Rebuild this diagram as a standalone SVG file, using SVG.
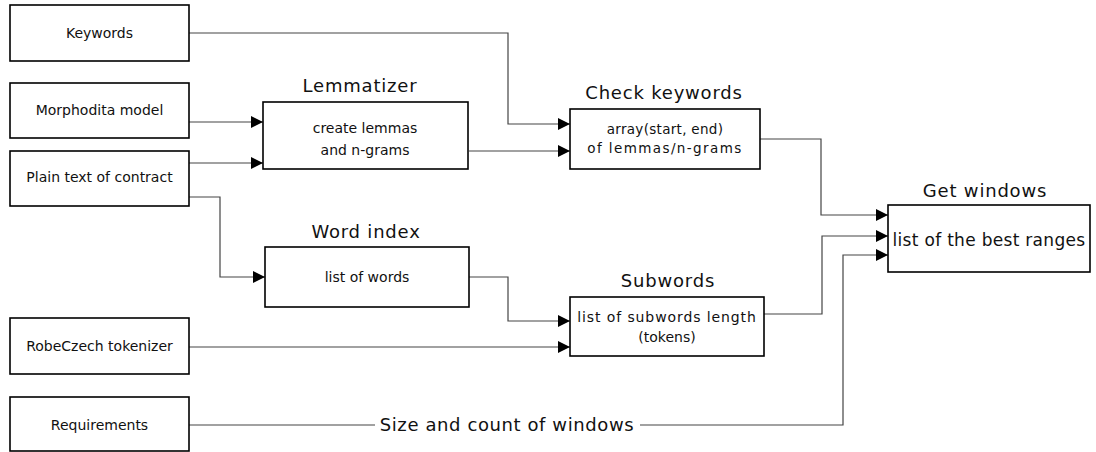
<svg xmlns="http://www.w3.org/2000/svg" width="1096" height="452" viewBox="0 0 1096 452">
<style>
.box{fill:#fff;stroke:#000;stroke-width:1.6}
.t{font-family:"DejaVu Sans",sans-serif;font-size:14px;fill:#111;text-anchor:middle}
.s{font-family:"DejaVu Sans",sans-serif;font-size:13.5px;fill:#111;text-anchor:middle}
.h{font-family:"DejaVu Sans",sans-serif;font-size:18px;fill:#111;text-anchor:middle;letter-spacing:0.8px}
.c{fill:none;stroke:#444;stroke-width:1.2}
</style>
<defs>
<marker id="a" viewBox="0 0 12 12" markerWidth="12" markerHeight="12" refX="12" refY="6" orient="auto" markerUnits="userSpaceOnUse">
<path d="M0,0 L12,6 L0,12 Z" fill="#000"/>
</marker>
</defs>
<rect width="1096" height="452" fill="#fff"/>
<g id="connectors">
<path class="c" d="M189,33 H508 V124 H570" marker-end="url(#a)"/>
<path class="c" d="M189,122 H263" marker-end="url(#a)"/>
<path class="c" d="M189,163 H263" marker-end="url(#a)"/>
<path class="c" d="M189,197 H220 V277 H265" marker-end="url(#a)"/>
<path class="c" d="M469,151 H570" marker-end="url(#a)"/>
<path class="c" d="M469,277 H508 V321 H570" marker-end="url(#a)"/>
<path class="c" d="M189,347 H570" marker-end="url(#a)"/>
<path class="c" d="M760,139 H821 V215 H888" marker-end="url(#a)"/>
<path class="c" d="M764,314 H822 V236 H888" marker-end="url(#a)"/>
<path class="c" d="M189,425 H375"/>
<path class="c" d="M640,425 H843 V255 H888" marker-end="url(#a)"/>
<text class="h" x="507" y="431" style="letter-spacing:0.6px">Size and count of windows</text>
</g>
<g id="keywords"><rect class="box" x="10" y="5" width="179" height="56"/><text class="t" x="99.5" y="38">Keywords</text></g>
<g id="morphodita"><rect class="box" x="10" y="83" width="179" height="55"/><text class="t" x="99.5" y="115">Morphodita model</text></g>
<g id="plaintext"><rect class="box" x="10" y="151" width="179" height="55"/><text class="t" x="99.5" y="182">Plain text of contract</text></g>
<g id="robeczech"><rect class="box" x="10" y="318" width="179" height="56"/><text class="t" x="99.5" y="351">RobeCzech tokenizer</text></g>
<g id="requirements"><rect class="box" x="10" y="397" width="179" height="54"/><text class="t" x="99.5" y="430">Requirements</text></g>
<g id="lemmatizer"><text class="h" x="360" y="92">Lemmatizer</text><rect class="box" x="263" y="102" width="205" height="67"/><text class="t" x="365" y="133">create lemmas</text><text class="t" x="365" y="155">and n-grams</text></g>
<g id="wordindex"><text class="h" x="366" y="238">Word index</text><rect class="box" x="265" y="247" width="204" height="60"/><text class="t" x="367" y="282">list of words</text></g>
<g id="checkkeywords"><text class="h" x="664" y="99">Check keywords</text><rect class="box" x="570" y="109" width="190" height="60"/><text class="s" x="665" y="134" style="letter-spacing:0.3px">array(start, end)</text><text class="s" x="665" y="153" style="letter-spacing:1.4px">of lemmas/n-grams</text></g>
<g id="subwords"><text class="h" x="668" y="287">Subwords</text><rect class="box" x="570" y="297" width="194" height="59"/><text class="t" x="667" y="322" style="letter-spacing:0.9px">list of subwords length</text><text class="t" x="667" y="342">(tokens)</text></g>
<g id="getwindows"><text class="h" x="985" y="197">Get windows</text><rect class="box" x="888" y="205" width="202" height="67"/><text class="t" x="989" y="246" style="font-size:17px;letter-spacing:0.3px">list of the best ranges</text></g>
</svg>
